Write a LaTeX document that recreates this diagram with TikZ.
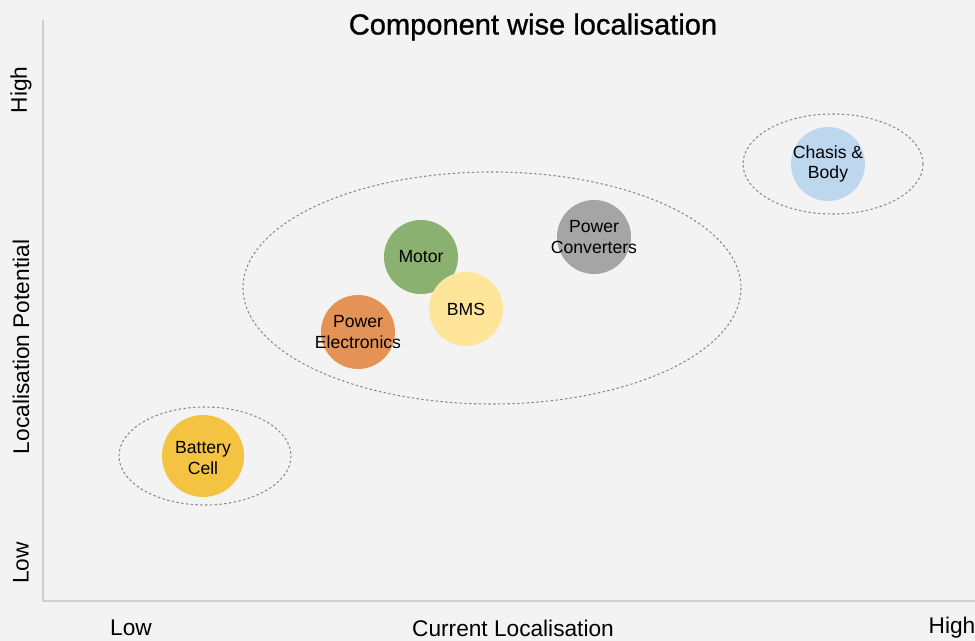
\documentclass[tikz,border=0pt]{standalone}
\usepackage{fontspec}
\setmainfont{Liberation Sans}
\newfontfamily\titlefont[FakeBold=0.9]{Liberation Sans}
\definecolor{bg}{HTML}{F3F3F3}
\definecolor{axisc}{HTML}{CFCFCF}
\definecolor{dashc}{HTML}{8A8A8A}
\definecolor{cgold}{HTML}{F5C342}
\definecolor{corange}{HTML}{E59257}
\definecolor{cgreen}{HTML}{8AB170}
\definecolor{cyellow}{HTML}{FEE599}
\definecolor{cgray}{HTML}{A5A5A5}
\definecolor{cblue}{HTML}{BDD7EE}
\begin{document}
\begin{tikzpicture}[x=0.75pt,y=-0.75pt,
  bubble/.style={circle,minimum size=74*0.75pt,inner sep=0pt,outer sep=0pt},
  btext/.style={inner sep=0pt,align=center,font=\fontsize{13.2}{15.5}\selectfont,text=black},
  group/.style={draw=dashc,line width=0.8pt,dash pattern=on 1.8pt off 1.8pt},
  axlabel/.style={font=\fontsize{17}{19}\selectfont,text=black},
  axisline/.style={draw=axisc,line width=0.9pt}]
\fill[bg] (0,0) rectangle (975,641);
\useasboundingbox (0,0) rectangle (975,641);
\coordinate (top) at (43,20);
\coordinate (origin) at (43,601);
\coordinate (right) at (975,601);
\draw[axisline] (top) -- (origin) -- (right);
\node[font=\titlefont\fontsize{21.8}{24}\selectfont] (title) at (533,27) {Component wise localisation};
\node[axlabel,rotate=90] (yhigh) at (21,90) {High};
\node[axlabel,rotate=90] (ylab) at (21,347) {Localisation Potential};
\node[axlabel,rotate=90] (ylow) at (21,563) {Low};
\node[axlabel] (xlow) at (131,628) {Low};
\node[axlabel] (xlab) at (513,628) {Current Localisation};
\node[axlabel] (xhigh) at (952,628) {High};
\draw[group] (205,456) ellipse [x radius=86, y radius=49];
\draw[group] (492,288) ellipse [x radius=249, y radius=116];
\draw[group] (833,164) ellipse [x radius=90, y radius=50];
\node[bubble,fill=cgold,minimum size=82*0.75pt] (bat) at (203,456) {};
\node[btext] (battxt) at ([yshift=-1.5]bat) {Battery\\Cell};
\node[bubble,fill=corange] (pe) at (358,332) {};
\node[btext] (petxt) at (pe) {Power\\Electronics};
\node[bubble,fill=cgreen] (motor) at (421,257) {};
\node[btext] (motortxt) at (motor) {Motor};
\node[bubble,fill=cyellow] (bms) at (466,309) {};
\node[btext] (bmstxt) at (bms) {BMS};
\node[bubble,fill=cgray] (pc) at (594,237) {};
\node[btext] (pctxt) at (pc) {Power\\Converters};
\node[bubble,fill=cblue] (chasis) at (828,164) {};
\node[btext] (chasistxt) at (chasis) {Chasis \&\\Body};
\end{tikzpicture}
\end{document}
